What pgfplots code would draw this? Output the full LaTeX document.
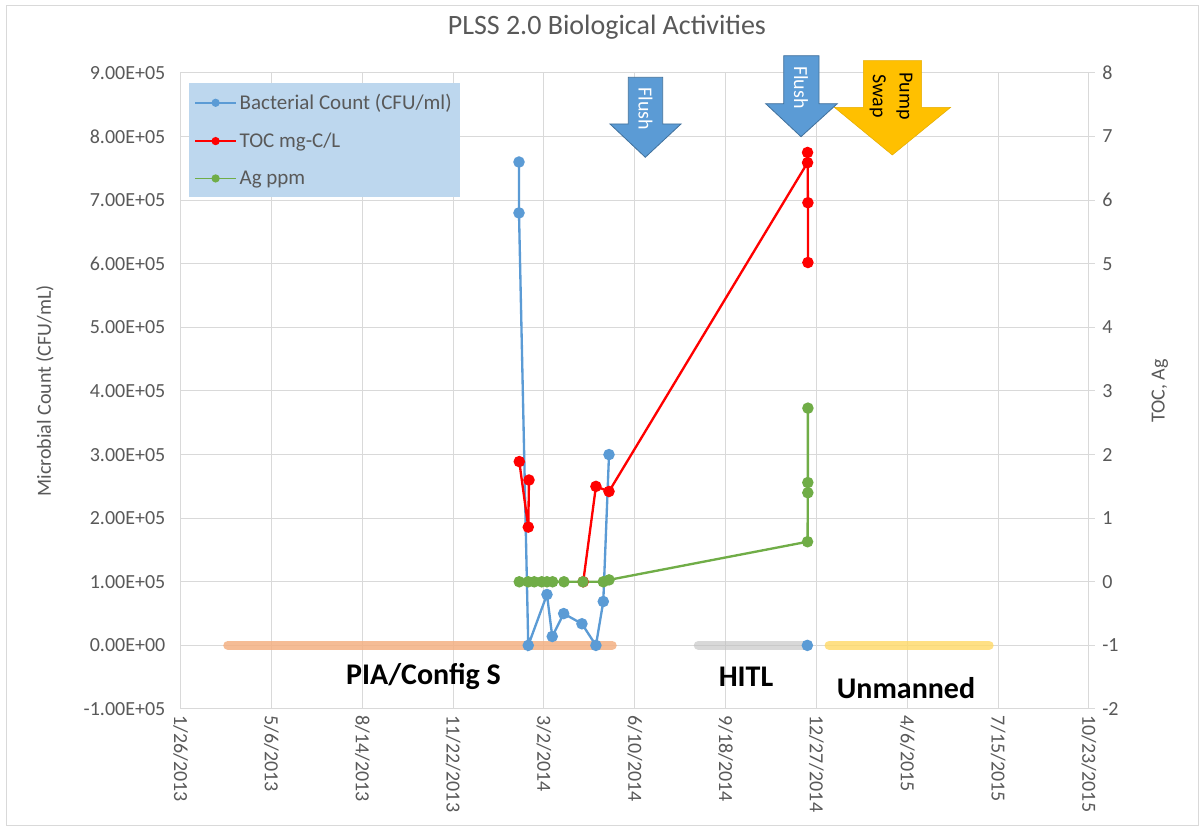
\documentclass[border=0pt]{standalone}
\usepackage{pgfplots}
\pgfplotsset{compat=1.18}
\usepackage{pgfplotstable}
\usepackage{fontspec}
\setmainfont{Carlito}
\definecolor{cblue}{HTML}{5B9BD5}
\definecolor{cred}{HTML}{FF0000}
\definecolor{cgreen}{HTML}{70AD47}
\definecolor{gridc}{HTML}{D9D9D9}
\definecolor{tickc}{HTML}{595959}
\definecolor{legfill}{HTML}{BDD7EE}
\definecolor{barorange}{HTML}{F4B183}
\definecolor{bargray}{HTML}{BFBFBF}
\definecolor{baryellow}{HTML}{FFD966}
\definecolor{arrowedge}{HTML}{41719C}
\definecolor{pumpy}{HTML}{FFC000}

% x = days since 1/26/2013
\pgfplotstableread{
x y
372.5 760000
372.5 680000
382.7 0
403.3 80000
409.1 14000
421.7 50000
441.8 34000
457.2 0
465.3 69000
471.6 300000
600 nan
690 0
}\bact
\pgfplotstableread{
x y
372.8 1.89
382.7 0.86
383.5 1.60
400 nan
443.2 0
457.2 1.50
471.6 1.42
690.2 6.59
690.2 6.75
690.6 5.96
690.6 5.02
}\toc
\pgfplotstableread{
x y
372.8 0
382.7 0
389.3 0
397.5 0
403.3 0
409.5 0
422.0 0
442.9 0
465.3 0
471.6 0.03
690.2 0.63
690.5 1.40
690.5 1.56
690.6 2.73
}\ag

\begin{document}
\begin{tikzpicture}
\useasboundingbox (0,0) rectangle (903pt,623.25pt);
\fill[white] (0,0) rectangle (903pt,623.25pt);
\draw[gridc, line width=0.75pt] (4.5pt,3.75pt) rectangle (898.5pt,618.75pt);

\begin{axis}[
  at={(135.5pt,91.5pt)}, anchor=south west,
  width=681.2pt, height=477pt, scale only axis,
  xmin=0, xmax=1000, ymin=-100000, ymax=900000,
  xtick={0,100,200,300,400,500,600,700,800,900,1000},
  xticklabels={1/26/2013,5/6/2013,8/14/2013,11/22/2013,3/2/2014,6/10/2014,9/18/2014,12/27/2014,4/6/2015,7/15/2015,10/23/2015},
  ytick={-100000,0,100000,200000,300000,400000,500000,600000,700000,800000,900000},
  yticklabels={-1.00E+05,0.00E+00,1.00E+05,2.00E+05,3.00E+05,4.00E+05,5.00E+05,6.00E+05,7.00E+05,8.00E+05,9.00E+05},
  scaled y ticks=false, scaled x ticks=false,
  grid=major, grid style={gridc, line width=0.75pt},
  axis line style={gridc, line width=0.75pt},
  major tick length=0pt,
  tick label style={font=\fontsize{15}{18}\selectfont, text=tickc},
  xticklabel style={rotate=-90, anchor=west, xshift=1.5pt},
  yticklabel style={xshift=-8pt},
  ylabel={Microbial Count (CFU/mL)},
  ylabel style={at={(axis description cs:-0.1494,0.5)}, anchor=center, rotate=0, font=\fontsize{15}{18}\selectfont, text=tickc},
  title={PLSS 2.0 Biological Activities},
  title style={at={(axis description cs:0.4693,1.0587)}, anchor=center, font=\fontsize{21}{25}\selectfont, text=tickc},
  unbounded coords=jump,
]
\addplot[cblue, line width=1.75pt, mark=*, mark size=3.4pt, mark options={solid, fill=cblue, draw=cblue}] table {\bact};
\addplot[barorange, opacity=0.85, line width=7pt, line cap=round, forget plot] coordinates {(52,0) (475,0)};
\addplot[bargray, opacity=0.6, line width=7pt, line cap=round, forget plot] coordinates {(570,0) (689,0)};
\addplot[baryellow, opacity=0.8, line width=7pt, line cap=round, forget plot] coordinates {(714,0) (890,0)};
\end{axis}

\begin{axis}[
  at={(135.5pt,91.5pt)}, anchor=south west,
  width=681.2pt, height=477pt, scale only axis,
  xmin=0, xmax=1000, ymin=-2, ymax=8,
  axis x line=none, axis y line*=right,
  ytick={-2,-1,0,1,2,3,4,5,6,7,8},
  yticklabels={-2,-1,0,1,2,3,4,5,6,7,8},
  axis line style={gridc, line width=0.75pt},
  ytick style={gridc, line width=0.75pt},
  tick align=outside, major tick length=4.5pt,
  yticklabel style={font=\fontsize{15}{18}\selectfont, text=tickc, xshift=2pt},
  ylabel={TOC, Ag},
  ylabel style={at={(axis description cs:1.0782,0.5)}, anchor=center, rotate=0, font=\fontsize{15}{18}\selectfont, text=tickc},
  unbounded coords=jump,
  legend cell align=left,
  legend style={at={(axis description cs:0.0088,0.984)}, anchor=north west, fill=legfill, draw=none,
    font=\fontsize{15.75}{19}\selectfont, text=tickc, inner xsep=4pt, inner ysep=6pt, row sep=12pt},
  legend image code/.code={\draw[#1, line width=1.3pt, mark size=2.4pt, mark repeat=2, mark phase=2] plot coordinates {(0cm,0cm) (0.54cm,0cm) (1.08cm,0cm)};},
]
\addlegendimage{cblue, line width=1.75pt, mark=*, mark size=3.4pt, mark options={solid, fill=cblue, draw=cblue}}
\addlegendentry{Bacterial Count (CFU/ml)}
\addplot[cred, line width=1.75pt, mark=*, mark size=3.4pt, mark options={solid, fill=cred, draw=cred}] table {\toc};
\addlegendentry{TOC mg-C/L}
\addplot[cgreen, line width=1.75pt, mark=*, mark size=3.4pt, mark options={solid, fill=cgreen, draw=cgreen}] table {\ag};
\addlegendentry{Ag ppm}
\end{axis}

\begin{scope}[x=0.75pt, y=-0.75pt, yshift=623.25pt]
\filldraw[fill=cblue, draw=arrowedge, line width=0.6pt] (628.3,77.3) -- (662.7,77.3) -- (662.7,124) -- (681,124) -- (645.3,157.3) -- (610,124) -- (628.3,124) -- cycle;
\node[rotate=-90, text=white, font=\fontsize{15}{18}\selectfont] at (645.5,109) {Flush};
\filldraw[fill=cblue, draw=arrowedge, line width=0.6pt] (783.7,55.7) -- (819,55.7) -- (819,103.7) -- (837.3,103.7) -- (801,136.7) -- (765.7,103.7) -- (783.7,103.7) -- cycle;
\node[rotate=-90, text=white, font=\fontsize{15}{18}\selectfont] at (801,87.5) {Flush};
\filldraw[fill=pumpy, draw=pumpy!90!black, line width=0.4pt] (863.3,60.7) -- (921.7,60.7) -- (921.7,107.3) -- (950.7,107.3) -- (892.3,155) -- (834.3,107.3) -- (863.3,107.3) -- cycle;
\node[rotate=-90, text=black, align=center, font=\fontsize{15}{20}\selectfont] at (891,96) {Pump\\Swap};
\node[font=\bfseries\fontsize{22.5}{27}\selectfont] at (423.5,677) {PIA/Config S};
\node[font=\bfseries\fontsize{22.5}{27}\selectfont] at (746,677) {HITL};
\node[font=\bfseries\fontsize{22.5}{27}\selectfont] at (906,688) {Unmanned};
\end{scope}
\end{tikzpicture}
\end{document}
